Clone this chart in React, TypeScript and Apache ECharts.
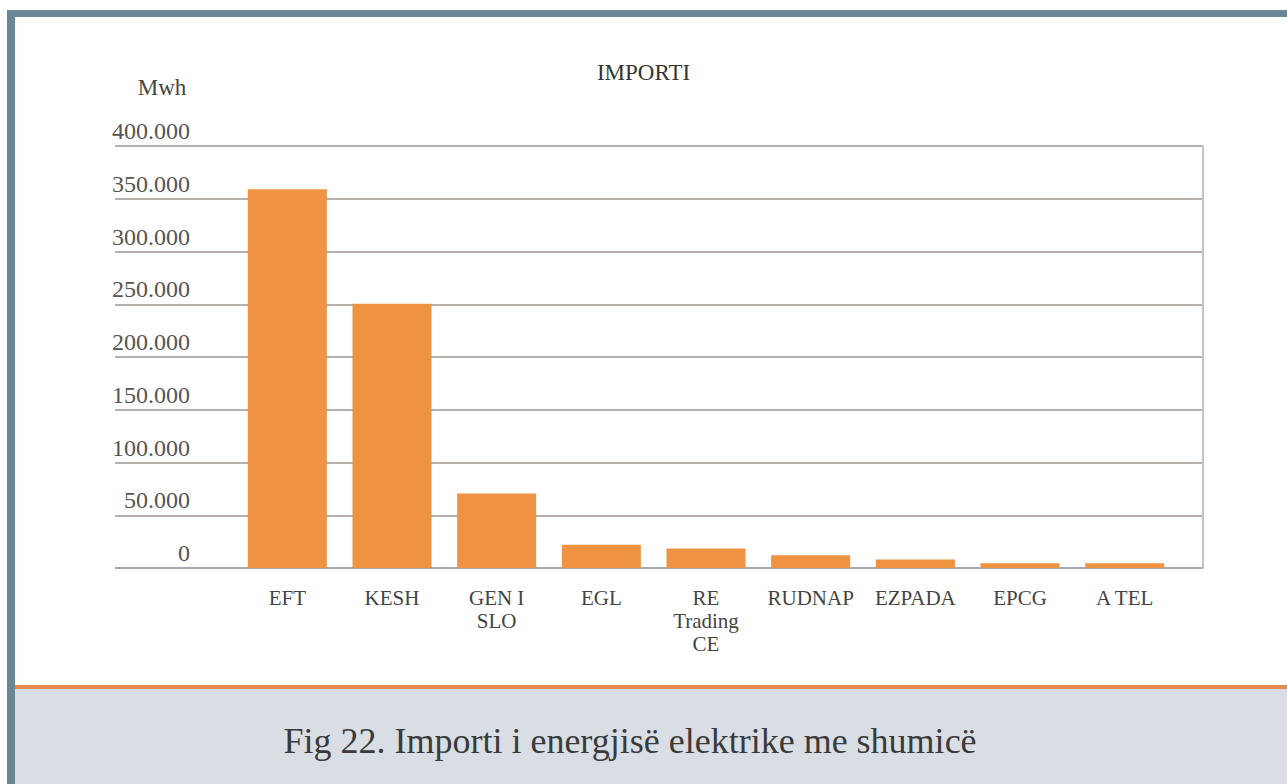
import React, { useEffect, useRef } from "react";
import * as echarts from "echarts";

const categories = ["EFT", "KESH", "GEN I\nSLO", "EGL", "RE\nTrading\nCE", "RUDNAP", "EZPADA", "EPCG", "A TEL"];
const importValues = [359000, 250500, 70500, 22000, 18500, 12000, 8000, 4500, 4500];
const yMin = 0;
const yMax = 400000;
const yStep = 50000;
const chartTitle = "IMPORTI";
const unitLabel = "Mwh";
const caption = "Fig 22. Importi i energjisë elektrike me shumicë";

const SERIF = "'Liberation Serif', 'DejaVu Serif', serif";

function fmt(v: number): string {
  return String(v).replace(/\B(?=(\d{3})+(?!\d))/g, ".");
}

export default function App() {
  const ref = useRef<HTMLDivElement>(null);
  useEffect(() => {
    if (!ref.current) return;
    const chart = echarts.init(ref.current, undefined, { renderer: "svg" });
    const gridTop = 146;
    const gridBottom = 216;
    chart.setOption({
      animation: false,
      backgroundColor: "#ffffff",
      title: {
        text: chartTitle,
        left: "center",
        top: 56,
        textStyle: { fontFamily: SERIF, fontSize: 23, fontWeight: "normal", color: "#333333" },
      },
      grid: [
        { left: 115, right: 84, top: gridTop, bottom: gridBottom },
        { left: 235, width: 942, top: gridTop, bottom: gridBottom },
      ],
      xAxis: [
        { gridIndex: 0, type: "value", show: false, min: 0, max: 1 },
        {
          gridIndex: 1,
          type: "category",
          data: categories,
          axisLine: { show: false },
          axisTick: { show: false },
          axisLabel: {
            interval: 0,
            margin: 18,
            fontFamily: SERIF,
            fontSize: 21,
            lineHeight: 23,
            color: "#444444",
          },
        },
      ],
      yAxis: [
        {
          gridIndex: 0,
          type: "value",
          min: yMin,
          max: yMax,
          interval: yStep,
          axisLine: { show: false },
          axisTick: { show: false },
          splitLine: {
            show: true,
            lineStyle: {
              color: ["#a5aab8", "#b6afad", "#b6afad", "#b6afad", "#b6afad", "#b6afad", "#b6afad", "#b6afad", "#b6afad"],
              width: 2,
            },
          },
          axisLabel: {
            inside: true,
            align: "right",
            margin: 75,
            verticalAlign: "bottom",
            lineHeight: 24,
            padding: [0, 0, 3, 0],
            fontFamily: SERIF,
            fontSize: 24,
            color: "#555555",
            formatter: (v: number) => fmt(v),
          },
        },
        {
          gridIndex: 0,
          type: "value",
          position: "right",
          min: yMin,
          max: yMax,
          interval: yStep,
          axisLine: { show: true, lineStyle: { color: "#c3c3cc", width: 2 } },
          axisTick: { show: false },
          axisLabel: { show: false },
          splitLine: { show: false },
        },
        {
          gridIndex: 1,
          type: "value",
          min: yMin,
          max: yMax,
          interval: yStep,
          show: false,
          splitLine: { show: false },
        },
      ],
      series: [
        {
          type: "bar",
          xAxisIndex: 1,
          yAxisIndex: 2,
          data: importValues,
          barCategoryGap: "24.5%",
          itemStyle: { color: "#ee9342" },
        },
      ],
      graphic: [
        { type: "rect", z: -10, shape: { x: 7, y: 10, width: 8, height: 774 }, style: { fill: "#6b8796" } },
        { type: "rect", z: -10, shape: { x: 7, y: 10, width: 1280, height: 7 }, style: { fill: "#6b8796" } },
        { type: "rect", z: -10, shape: { x: 15, y: 689, width: 1272, height: 95 }, style: { fill: "#d9dee4" } },
        { type: "rect", z: -10, shape: { x: 15, y: 685, width: 1272, height: 4 }, style: { fill: "#e08a4f" } },
        {
          type: "text",
          x: 162,
          y: 87,
          style: {
            text: unitLabel,
            fontFamily: SERIF,
            fontSize: 23,
            fill: "#444444",
            textAlign: "center",
            textVerticalAlign: "middle",
          },
        },
        {
          type: "text",
          x: 630,
          y: 741,
          style: {
            text: caption,
            fontFamily: SERIF,
            fontSize: 36,
            fill: "#3a3a3a",
            textAlign: "center",
            textVerticalAlign: "middle",
          },
        },
      ],
    });
    return () => chart.dispose();
  }, []);
  return (
    <div
      ref={ref}
      style={{ position: "absolute", left: 0, top: 0, width: 1287, height: 784 }}
    />
  );
}
